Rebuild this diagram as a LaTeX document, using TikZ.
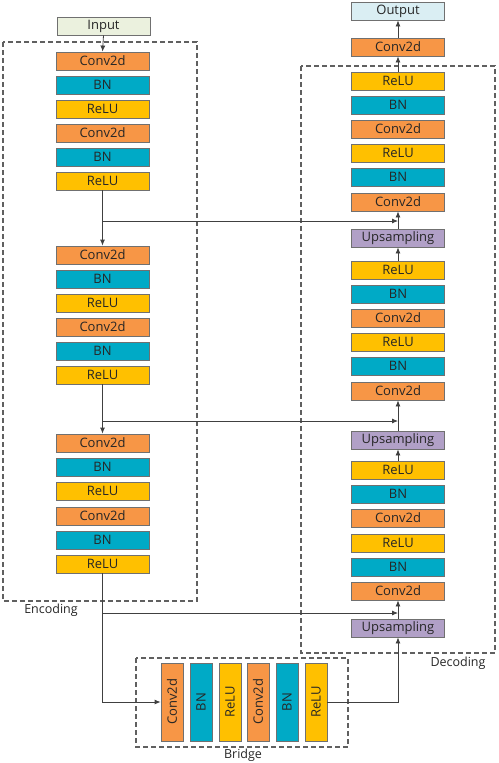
\documentclass[tikz,border=0pt]{standalone}
\usepackage{fontspec}
\setmainfont{Open Sans}
\usetikzlibrary{arrows.meta,calc}
\definecolor{convc}{HTML}{F79646}
\definecolor{bnc}{HTML}{00AAC6}
\definecolor{reluc}{HTML}{FFC000}
\definecolor{upc}{HTML}{B1A0C7}
\definecolor{inc}{HTML}{EBF1DE}
\definecolor{outc}{HTML}{DAEEF3}
\definecolor{bordc}{HTML}{707070}
\definecolor{txtc}{HTML}{262626}
\definecolor{linec}{HTML}{404040}
\definecolor{dashc}{HTML}{606060}
\begin{document}
\begin{tikzpicture}[x=1pt,y=-1pt,
  blk/.style={draw=bordc, line width=0.8pt, minimum width=93pt, minimum height=18pt, inner sep=0pt, font=\fontsize{13}{13}\selectfont, text=txtc},
  cv/.style={blk, fill=convc},
  bn/.style={blk, fill=bnc},
  rl/.style={blk, fill=reluc},
  up/.style={blk, fill=upc},
  vblk/.style={draw=bordc, line width=0.8pt, minimum width=22pt, minimum height=78pt, inner sep=0pt, font=\fontsize{13}{13}\selectfont, text=txtc},
  arr/.style={draw=linec, line width=0.8pt, -{Latex[length=6pt,width=5pt]}},
  dbox/.style={draw=dashc, line width=1.1pt, dash pattern=on 5pt off 3pt},
  lbl/.style={font=\fontsize{12.5}{12.5}\selectfont, text=txtc}]
\useasboundingbox (0,0) rectangle (498,763);

% dashed groups
\draw[dbox] (3,42) rectangle (197,601);
\draw[dbox] (301,66) rectangle (495,653);
\draw[dbox] (136,658) rectangle (348,747);
\node[lbl] (lenc) at (51,610) {Encoding};
\node[lbl] (ldec) at (458,663) {Decoding};
\node[lbl] (lbr) at (243,755) {Bridge};

% encoder
\node[blk, fill=inc] (in) at (103.5,26) {Input};
\node[cv] (e1c1) at (102.5,61) {Conv2d};
\node[bn] (e1b1) at (102.5,85) {BN};
\node[rl] (e1r1) at (102.5,109) {ReLU};
\node[cv] (e1c2) at (102.5,133) {Conv2d};
\node[bn] (e1b2) at (102.5,157) {BN};
\node[rl] (e1r2) at (102.5,181) {ReLU};

\node[cv] (e2c1) at (102.5,255) {Conv2d};
\node[bn] (e2b1) at (102.5,279) {BN};
\node[rl] (e2r1) at (102.5,303) {ReLU};
\node[cv] (e2c2) at (102.5,327) {Conv2d};
\node[bn] (e2b2) at (102.5,351) {BN};
\node[rl] (e2r2) at (102.5,375) {ReLU};

\node[cv] (e3c1) at (102.5,443) {Conv2d};
\node[bn] (e3b1) at (102.5,467) {BN};
\node[rl] (e3r1) at (102.5,491) {ReLU};
\node[cv] (e3c2) at (102.5,516) {Conv2d};
\node[bn] (e3b2) at (102.5,540) {BN};
\node[rl] (e3r2) at (102.5,564) {ReLU};

% bridge
\node[vblk, fill=convc] (b1) at (172,702) {\rotatebox{90}{Conv2d}};
\node[vblk, fill=bnc] (b2) at (201,702) {\rotatebox{90}{BN}};
\node[vblk, fill=reluc] (b3) at (230,702) {\rotatebox{90}{ReLU}};
\node[vblk, fill=convc] (b4) at (258,702) {\rotatebox{90}{Conv2d}};
\node[vblk, fill=bnc] (b5) at (287,702) {\rotatebox{90}{BN}};
\node[vblk, fill=reluc] (b6) at (316,702) {\rotatebox{90}{ReLU}};

% decoder
\node[blk, fill=outc] (out) at (398,11) {Output};
\node[cv] (oc) at (398,47) {Conv2d};
\node[rl] (d1r2) at (398,81) {ReLU};
\node[bn] (d1b2) at (398,105) {BN};
\node[cv] (d1c2) at (398,129) {Conv2d};
\node[rl] (d1r1) at (398,153) {ReLU};
\node[bn] (d1b1) at (398,177) {BN};
\node[cv] (d1c1) at (398,202) {Conv2d};
\node[up] (du1) at (398,238) {Upsampling};

\node[rl] (d2r2) at (398,270) {ReLU};
\node[bn] (d2b2) at (398,294) {BN};
\node[cv] (d2c2) at (398,318) {Conv2d};
\node[rl] (d2r1) at (398,342) {ReLU};
\node[bn] (d2b1) at (398,366) {BN};
\node[cv] (d2c1) at (398,391) {Conv2d};
\node[up] (du2) at (398,440) {Upsampling};

\node[rl] (d3r2) at (398,470) {ReLU};
\node[bn] (d3b2) at (398,494) {BN};
\node[cv] (d3c2) at (398,518) {Conv2d};
\node[rl] (d3r1) at (398,543) {ReLU};
\node[bn] (d3b1) at (398,567) {BN};
\node[cv] (d3c1) at (398,591) {Conv2d};
\node[up] (du3) at (398,628) {Upsampling};

% skip rows
\coordinate (k1) at (0,221);
\coordinate (k2) at (0,421);
\coordinate (k3) at (0,613);

% connectors
\draw[arr] (in.south) -- (e1c1.north);
\draw[arr] (e1r2.south) -- (e2c1.north);
\draw[arr] (e1r2.south |- k1) -- (du1.north |- k1);
\draw[arr] (e2r2.south) -- (e3c1.north);
\draw[arr] (e2r2.south |- k2) -- (du2.north |- k2);
\draw[arr] (e3r2.south) |- (b1.west);
\draw[arr] (e3r2.south |- k3) -- (du3.north |- k3);
\draw[arr] (b6.east) -| (du3.south);
\draw[arr] (du3.north) -- (d3c1.south);
\draw[arr] (d3r2.north) -- (du2.south);
\draw[arr] (du2.north) -- (d2c1.south);
\draw[arr] (d2r2.north) -- (du1.south);
\draw[arr] (du1.north) -- (d1c1.south);
\draw[arr] (d1r2.north) -- (oc.south);
\draw[arr] (oc.north) -- (out.south);
\end{tikzpicture}
\end{document}
